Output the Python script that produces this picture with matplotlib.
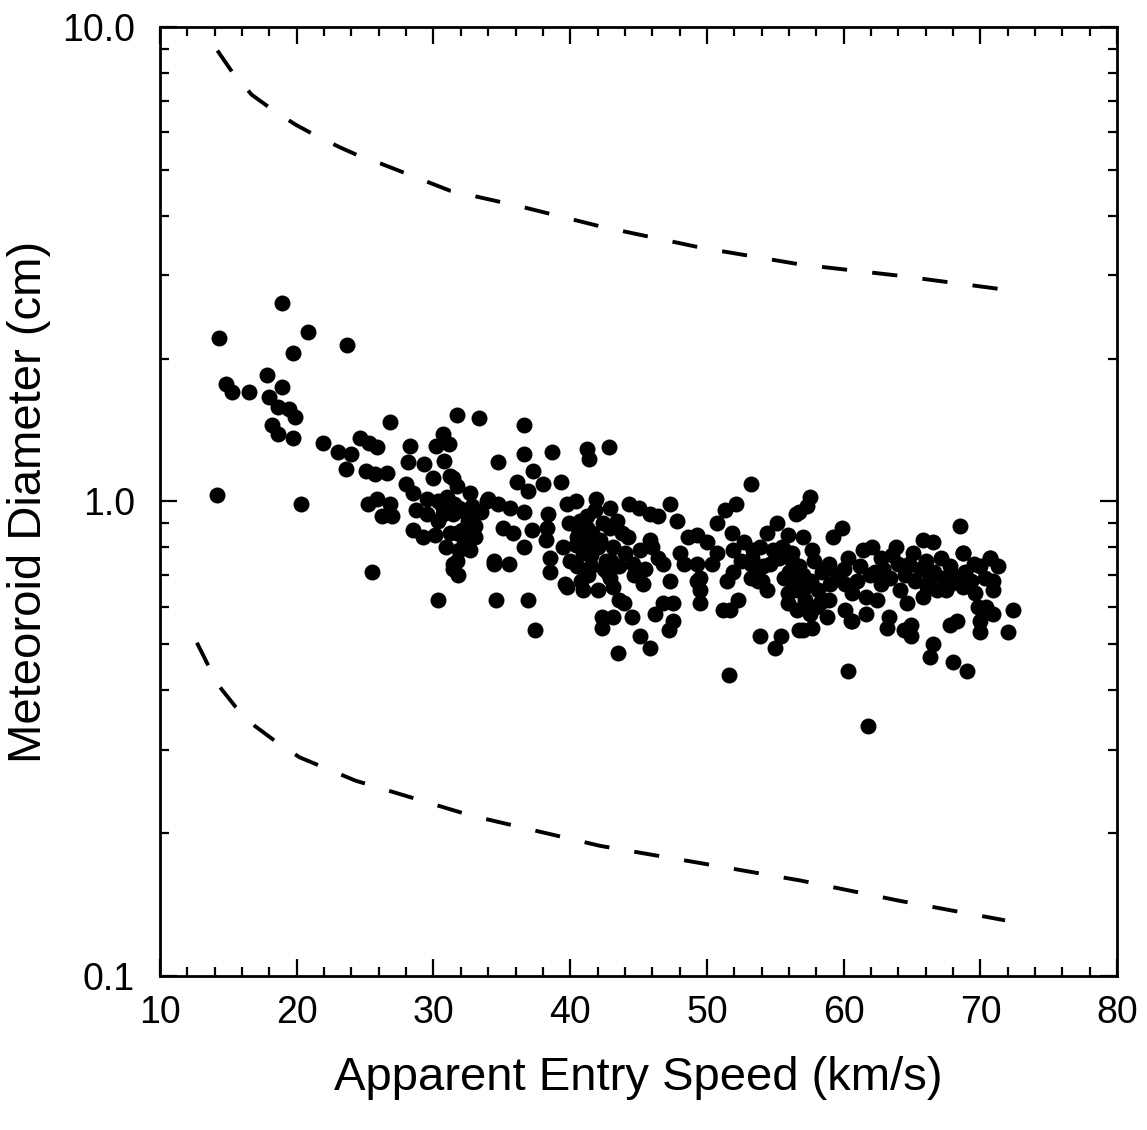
import matplotlib.pyplot as plt
from matplotlib.ticker import FixedLocator, FuncFormatter, MultipleLocator

plt.rcParams['font.family'] = ['Liberation Sans', 'DejaVu Sans']

# meteoroid entry speed (km/s) and diameter (cm)
speed = [
    14.3, 14.2, 14.8, 15.3, 16.5, 17.8, 18.9, 18.0, 18.6, 19.4, 19.9, 18.2, 18.6, 19.7,
    18.9, 20.8, 19.7, 23.7, 20.3,
    26.8, 31.7, 33.3, 21.9, 23.0, 23.6, 24.0, 24.6, 25.3, 25.9, 25.1, 25.7, 26.6, 28.3,
    28.1, 29.3, 30.0, 30.2, 30.7, 31.1, 30.8, 31.2, 31.7, 32.7, 33.9, 28.0, 28.5, 29.5,
    30.3, 30.7, 32.1, 25.2, 25.9, 26.8, 26.2, 27.0, 28.7, 29.5, 30.3, 30.7, 32.5, 33.0,
    28.5, 29.2, 30.1, 32.1, 32.2, 33.0, 31.9, 32.7, 31.7, 31.4, 34.4, 25.5, 30.3, 34.6,
    31.4, 31.9, 31.4, 32.9, 31.7, 32.2, 31.4,
    36.6, 34.7, 36.6, 38.7, 41.2, 41.4, 42.8, 37.3, 36.1, 38.0, 39.3, 36.9, 39.8, 41.9,
    34.0, 34.7, 35.6, 36.6, 38.4, 41.2, 42.9, 44.3, 45.0, 47.3, 47.8, 45.8, 46.4, 53.2,
    52.1, 51.3, 50.7, 51.8, 49.3, 35.1, 35.8, 37.2, 38.3, 41.2, 42.9, 43.4, 38.2, 38.5,
    38.5, 36.6, 34.4, 35.5, 36.9, 37.4, 39.6, 40.9, 42.0, 40.5, 40.9, 40.5, 41.5, 40.0,
    41.2, 42.4, 43.1, 44.2, 45.1, 45.8, 46.4, 42.9, 43.1, 43.6, 45.3, 44.7, 47.3, 46.8,
    48.3, 49.3, 49.3, 49.5, 42.3, 42.3, 43.1, 44.5, 46.2, 46.8, 47.5, 47.5, 47.2, 45.1,
    45.8, 43.5, 51.6, 51.5, 51.2, 52.3, 51.9, 53.2, 54.0, 54.4, 53.3, 53.9, 54.6, 55.6,
    55.6, 55.9, 55.9, 53.9, 55.4, 55.0, 56.7, 56.6, 56.2, 56.7, 56.5, 55.1, 54.4, 39.8,
    42.7, 43.9, 50.7, 51.9, 49.5, 49.5, 51.7, 53.4, 53.7,
    40.4, 41.8, 40.7, 42.2, 41.5, 42.6, 43.6, 40.4,
    57.5, 57.3, 56.7, 59.9, 59.2, 55.9, 57.0, 55.5, 53.2, 53.7, 56.2, 56.6, 57.7, 57.8,
    58.4, 57.2, 57.2, 58.1, 58.3, 58.9, 58.8, 57.5, 57.0, 57.7, 60.3, 60.0, 60.1, 60.1,
    60.6, 60.3, 61.8, 61.4, 62.1, 62.7, 61.2, 61.9, 62.7, 61.6, 62.4, 61.6, 63.3, 63.2,
    63.8, 64.0, 63.4, 64.1, 64.6, 64.4, 64.9, 64.9, 65.8, 66.5, 65.1, 65.6, 66.3, 65.8,
    66.8, 67.1, 67.8, 68.3, 68.7, 68.5, 67.8, 68.3, 66.5, 66.3, 68.0, 69.0, 70.0, 70.7,
    71.3, 70.9, 70.9, 69.3, 69.8, 70.4, 70.9, 70.0, 70.0, 72.4, 72.0, 67.8, 68.7,
    60.5, 68.7, 70.7,
    40.6, 41.0, 41.6, 42.0, 41.3, 40.8, 42.5, 43.0, 44.0, 44.6, 45.5, 46.0, 43.8, 39.5,
    39.9, 31.0, 31.5, 32.3, 32.8, 33.5, 31.2, 30.9, 31.8,
    62.9, 63.5, 64.5, 65.2, 66.0, 66.6, 67.3, 67.5, 68.0, 68.9, 69.5, 69.6, 70.3, 66.1,
    64.8, 62.3, 61.0, 60.6, 59.5, 58.9, 59.0, 55.3, 56.0, 57.0, 57.6, 58.0, 56.3, 54.8,
    54.1, 48.6, 48.0, 50.0, 50.4, 52.7, 52.5,
]
diameter = [
    2.21, 1.03, 1.77, 1.70, 1.70, 1.85, 1.74, 1.66, 1.58, 1.57, 1.51, 1.45, 1.39, 1.36,
    2.62, 2.28, 2.06, 2.14, 0.99,
    1.47, 1.52, 1.50, 1.33, 1.27, 1.17, 1.26, 1.36, 1.33, 1.30, 1.16, 1.14, 1.15, 1.31,
    1.21, 1.20, 1.12, 1.31, 1.39, 1.32, 1.22, 1.13, 1.08, 1.04, 1.00, 1.09, 1.04, 1.01,
    1.00, 0.97, 0.96, 0.99, 1.01, 0.99, 0.93, 0.93, 0.96, 0.94, 0.91, 0.94, 0.91, 0.89,
    0.87, 0.84, 0.85, 0.87, 0.83, 0.84, 0.79, 0.79, 0.75, 0.72, 0.75, 0.71, 0.62, 0.62,
    1.12, 0.97, 0.94, 0.93, 0.86, 0.80, 0.74,
    1.45, 1.21, 1.26, 1.27, 1.29, 1.23, 1.30, 1.16, 1.10, 1.09, 1.10, 1.05, 0.99, 1.01,
    1.01, 0.99, 0.97, 0.95, 0.94, 0.93, 0.97, 0.99, 0.97, 0.99, 0.91, 0.94, 0.93, 1.09,
    0.99, 0.96, 0.90, 0.86, 0.85, 0.88, 0.86, 0.87, 0.88, 0.88, 0.88, 0.91, 0.83, 0.76,
    0.71, 0.80, 0.74, 0.74, 0.62, 0.535, 0.67, 0.65, 0.65, 0.84, 0.78, 0.73, 0.73, 0.75,
    0.83, 0.90, 0.80, 0.84, 0.79, 0.83, 0.76, 0.69, 0.66, 0.62, 0.67, 0.70, 0.68, 0.74,
    0.74, 0.74, 0.68, 0.61, 0.57, 0.54, 0.57, 0.57, 0.58, 0.61, 0.61, 0.56, 0.535, 0.52,
    0.49, 0.48, 0.43, 0.68, 0.59, 0.62, 0.71, 0.69, 0.68, 0.65, 0.76, 0.80, 0.74, 0.79,
    0.69, 0.64, 0.61, 0.52, 0.52, 0.49, 0.535, 0.59, 0.78, 0.73, 0.94, 0.90, 0.86, 0.66,
    0.71, 0.61, 0.78, 0.79, 0.65, 0.69, 0.59, 0.79, 0.72,
    1.00, 0.96, 0.91, 0.83, 0.77, 0.75, 0.73, 0.81,
    1.02, 0.98, 0.95, 0.88, 0.84, 0.85, 0.84, 0.80, 0.74, 0.68, 0.75, 0.65, 0.79, 0.75,
    0.71, 0.66, 0.62, 0.65, 0.61, 0.62, 0.57, 0.58, 0.535, 0.54, 0.76, 0.72, 0.67, 0.59,
    0.56, 0.44, 0.337, 0.79, 0.80, 0.76, 0.73, 0.70, 0.67, 0.63, 0.62, 0.58, 0.57, 0.54,
    0.80, 0.74, 0.69, 0.65, 0.61, 0.535, 0.52, 0.55, 0.83, 0.82, 0.78, 0.72, 0.69, 0.63,
    0.65, 0.76, 0.73, 0.68, 0.78, 0.89, 0.55, 0.56, 0.50, 0.47, 0.46, 0.44, 0.73, 0.76,
    0.73, 0.68, 0.65, 0.68, 0.60, 0.60, 0.58, 0.56, 0.53, 0.59, 0.53, 0.67, 0.66,
    0.56, 0.78, 0.76,
    0.88, 0.82, 0.86, 0.80, 0.70, 0.68, 0.72, 0.75, 0.78, 0.74, 0.72, 0.80, 0.86, 0.80,
    0.90, 1.02, 0.99, 0.95, 0.98, 0.95, 0.86, 0.80, 0.70,
    0.72, 0.77, 0.70, 0.68, 0.75, 0.71, 0.69, 0.65, 0.70, 0.71, 0.74, 0.64, 0.69, 0.66,
    0.74, 0.71, 0.68, 0.64, 0.70, 0.74, 0.67, 0.76, 0.71, 0.70, 0.68, 0.60, 0.67, 0.79,
    0.73, 0.84, 0.78, 0.82, 0.74, 0.82, 0.75,
]

# dashed envelope curves
upper_speed = [14.2, 15.3, 16.7, 18.3, 19.9, 21.5, 23.2, 24.5, 26.1, 31.2, 36.3, 42.2,
               49.5, 56.8, 64.1, 71.6]
upper_diam = [8.92, 8.02, 7.20, 6.67, 6.23, 5.88, 5.57, 5.36, 5.16, 4.52, 4.19, 3.80,
              3.43, 3.16, 2.99, 2.80]
lower_speed = [12.7, 13.5, 14.3, 15.5, 16.9, 18.4, 20.2, 24.3, 32.7, 42.2, 49.5, 56.8,
               64.1, 71.8]
lower_diam = [0.504, 0.453, 0.409, 0.370, 0.337, 0.313, 0.289, 0.258, 0.218, 0.188,
              0.173, 0.159, 0.144, 0.131]

fig = plt.figure(figsize=(11.47, 11.30), dpi=100)
ax = fig.add_axes([0.1395, 0.1363, 0.8345, 0.8398])

ax.plot(upper_speed, upper_diam, color='black', lw=2.8, dashes=(6.5, 6.5))
ax.plot(lower_speed, lower_diam, color='black', lw=2.8, dashes=(6.5, 6.5))
ax.plot(speed, diameter, 'o', color='black', ms=11.5, mew=0)

ax.set_yscale('log')
ax.set_xlim(10, 80)
ax.set_ylim(0.1, 10)
ax.xaxis.set_major_locator(MultipleLocator(10))
ax.xaxis.set_minor_locator(MultipleLocator(2))
ax.yaxis.set_major_locator(FixedLocator([0.1, 1.0, 10.0]))
ax.yaxis.set_minor_locator(FixedLocator([k * d for d in (0.1, 1.0) for k in range(2, 10)]))
ax.yaxis.set_major_formatter(FuncFormatter(lambda v, p: '%.1f' % v))
ax.yaxis.set_minor_formatter(FuncFormatter(lambda v, p: ''))

for s in ax.spines.values():
    s.set_linewidth(2)
ax.tick_params(which='both', direction='in', top=True, right=True, width=1.6,
               labelsize=27, color='black')
ax.tick_params(axis='x', which='both', pad=14)
ax.tick_params(axis='y', which='both', pad=18)
ax.tick_params(which='major', length=12)
ax.tick_params(which='minor', length=6.5)

ax.set_xlabel('Apparent Entry Speed (km/s)', fontsize=34, labelpad=18)
ax.set_ylabel('Meteoroid Diameter (cm)', fontsize=34, labelpad=8)

fig.savefig('out.png', dpi=100)
